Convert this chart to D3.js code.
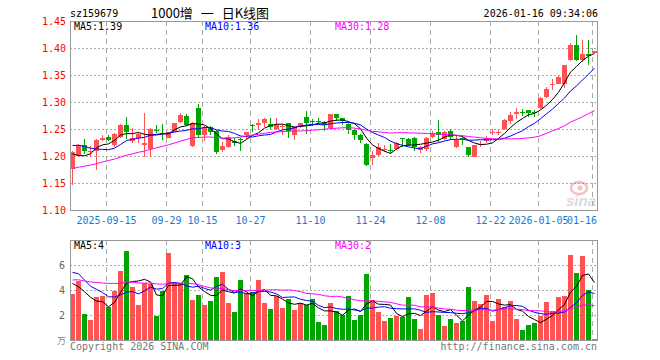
<!DOCTYPE html>
<html><head><meta charset="utf-8">
<script src="https://cdn.jsdelivr.net/npm/d3@7"></script>
<style>body{margin:0;background:#fff}svg{display:block}</style>
</head><body><svg id="c" width="660" height="360"></svg>
<script>
const code = "sz159679";
const title = "1000增 一 日K线图";
const stamp = "2026-01-16 09:34:06";

const open  = [1.176,1.200,1.221,1.207,1.210,1.230,1.235,1.221,1.236,1.257,1.228,1.234,1.221,1.213,1.249,1.242,1.234,1.245,1.263,1.275,1.218,1.289,1.238,1.254,1.247,1.212,1.216,1.227,1.232,1.239,1.257,1.257,1.261,1.259,1.250,1.254,1.261,1.239,1.253,1.272,1.265,1.265,1.263,1.251,1.277,1.270,1.260,1.249,1.239,1.222,1.197,1.201,1.212,1.212,1.213,1.233,1.232,1.234,1.212,1.213,1.236,1.244,1.232,1.247,1.216,1.234,1.216,1.199,1.221,1.227,1.243,1.243,1.250,1.265,1.277,1.282,1.285,1.281,1.288,1.309,1.331,1.334,1.333,1.378,1.405,1.377,1.388,1.391];
const high  = [1.209,1.222,1.232,1.219,1.232,1.239,1.239,1.242,1.259,1.272,1.252,1.243,1.280,1.251,1.257,1.259,1.245,1.262,1.280,1.277,1.263,1.296,1.256,1.256,1.248,1.226,1.238,1.233,1.233,1.245,1.259,1.268,1.270,1.270,1.270,1.260,1.262,1.256,1.262,1.283,1.269,1.271,1.265,1.278,1.278,1.271,1.262,1.250,1.241,1.224,1.209,1.224,1.221,1.222,1.226,1.234,1.233,1.235,1.218,1.235,1.247,1.266,1.247,1.250,1.238,1.236,1.217,1.221,1.227,1.237,1.250,1.249,1.268,1.281,1.288,1.287,1.286,1.285,1.309,1.328,1.342,1.348,1.369,1.409,1.425,1.415,1.414,1.395];
const low   = [1.146,1.198,1.204,1.199,1.175,1.228,1.227,1.216,1.234,1.231,1.224,1.224,1.199,1.199,1.242,1.230,1.233,1.244,1.262,1.256,1.216,1.234,1.228,1.239,1.204,1.208,1.215,1.218,1.210,1.231,1.245,1.248,1.253,1.250,1.248,1.239,1.234,1.230,1.251,1.241,1.256,1.259,1.247,1.250,1.265,1.258,1.241,1.230,1.225,1.182,1.183,1.200,1.207,1.204,1.212,1.216,1.218,1.210,1.206,1.209,1.233,1.226,1.230,1.229,1.215,1.221,1.198,1.198,1.216,1.225,1.239,1.238,1.248,1.260,1.268,1.274,1.273,1.273,1.287,1.308,1.323,1.333,1.326,1.376,1.376,1.374,1.368,1.390];
const close = [1.208,1.221,1.209,1.209,1.230,1.234,1.230,1.241,1.258,1.245,1.233,1.241,1.224,1.250,1.247,1.241,1.244,1.261,1.276,1.258,1.262,1.238,1.253,1.244,1.208,1.218,1.236,1.225,1.230,1.244,1.255,1.261,1.268,1.253,1.257,1.256,1.247,1.254,1.261,1.261,1.264,1.263,1.258,1.277,1.270,1.265,1.248,1.239,1.230,1.184,1.201,1.216,1.213,1.210,1.224,1.232,1.221,1.216,1.216,1.234,1.242,1.238,1.245,1.236,1.230,1.232,1.202,1.220,1.222,1.233,1.244,1.244,1.266,1.276,1.281,1.280,1.279,1.279,1.307,1.325,1.333,1.346,1.368,1.405,1.377,1.388,1.386,1.394];
const volume = [3.68,4.75,2.08,1.6,3.44,3.52,2.61,3.92,5.52,7.12,4.24,2.8,4.59,4.48,1.92,3.92,6.96,4.59,4.59,5.2,3.2,3.6,2.8,3.09,5.04,5.44,2.96,2.24,4.8,3.76,3.87,4.8,2.96,2.48,3.55,2.56,3.28,2.4,2.96,2.77,3.28,1.44,1.2,2.96,2.32,2.0,3.52,1.6,2.0,5.28,3.2,2.24,1.52,1.76,1.92,1.87,3.44,1.68,0.88,3.6,3.76,2.0,1.12,1.68,1.36,1.52,4.24,3.12,2.91,3.6,1.52,3.28,2.64,3.12,1.68,0.8,1.2,1.36,1.92,3.04,2.32,3.44,3.52,6.8,5.36,6.72,4.0,0.08];
// closes / volumes of the 29 sessions before the window (estimated from where the MA lines start)
const priorCloses = [1.150,1.148,1.152,1.147,1.145,1.150,1.153,1.149,1.146,1.151,1.155,1.158,1.156,1.160,1.162,1.159,1.163,1.165,1.168,1.175,1.215,1.232,1.240,1.245,1.242,1.235,1.212,1.191,1.173];
const priorVolumes = [4.2,5.1,3.8,4.6,4.9,3.5,4.1,5.3,4.4,4.0,4.8,5.2,3.9,4.3,4.7,4.5,5.0,4.1,4.6,4.9,5.8,7.2,6.5,5.9,6.05,6.07,4.08,3.86,4.96];

const tickIndex  = [6,16,22,30,40,50,60,70,78,87];
const tickLabels = ["2025-09-15","09-29","10-15","10-27","11-10","11-24","12-08","12-22","2026-01-05","01-16"];
const priceTicks = [1.10,1.15,1.20,1.25,1.30,1.35,1.40,1.45];
const volTicks   = [2,4,6];
const maPeriods  = [5,10,30];
const maColors   = ["#000000","#0000ff","#ff00ff"];

const UP = "#ff5252", DOWN = "#00a600", GRID = "#aaaaaa", BORDER = "#999999";
const MONO = "'DejaVu Sans Mono', monospace";
const N = close.length;
const L = 70, R = 598, T = 21, B = 210, VT = 240, VB = 340;

const svg = d3.select("#c");
const x  = d3.scaleBand().domain(d3.range(N)).range([L, R]).padding(0);
const xt = d3.scaleLinear().domain([0, N]).range([L, R]);
const y  = d3.scaleLinear().domain([1.10, 1.45]).range([B, T]);
const yv = d3.scaleLinear().domain([0, 8]).range([VB, VT]);
const cx = i => x(i) + 2.5;

function ma(series, prior, n) {
  const all = prior.concat(series), off = prior.length;
  return series.map((_, i) => d3.mean(all.slice(off + i - n + 1, off + i + 1)));
}
const priceMA = maPeriods.map(n => ma(close, priorCloses, n));
const volMA   = maPeriods.map(n => ma(volume, priorVolumes, n));

// header
svg.append("text").attr("x", 70).attr("y", 17).attr("font-family", MONO).attr("font-size", 10).text(code);
svg.append("text").attr("x", 151).attr("y", 18).attr("font-family", "'Noto Sans CJK SC', sans-serif")
  .attr("font-size", 13).attr("word-spacing", 5).style("white-space", "pre").text(title);
svg.append("text").attr("x", 598).attr("y", 17).attr("text-anchor", "end").attr("font-family", MONO).attr("font-size", 10).text(stamp);

function panel(top, bottom, yScale, ticks) {
  const g = svg.append("g");
  g.selectAll(".h").data(ticks).join("line")
    .attr("x1", L).attr("x2", R).attr("y1", d => Math.round(yScale(d)) + 0.5).attr("y2", d => Math.round(yScale(d)) + 0.5)
    .attr("stroke", GRID).attr("stroke-dasharray", "2,2");
  g.selectAll(".v").data(tickIndex).join("line")
    .attr("x1", d => xt(d) + 0.5).attr("x2", d => xt(d) + 0.5).attr("y1", top).attr("y2", bottom)
    .attr("stroke", GRID).attr("stroke-dasharray", "5,4");
  return g;
}
panel(T, B, y, priceTicks.filter(d => d > 1.10 && d < 1.45));
panel(VT, VB, yv, volTicks);

// price axis
const ya = svg.append("g").attr("transform", `translate(${L},0)`)
  .call(d3.axisLeft(y).tickValues(priceTicks).tickFormat(d3.format(".2f")).tickSize(0).tickPadding(4));
ya.select(".domain").remove();
ya.selectAll("text").attr("fill", "#ff0000").attr("font-family", MONO).attr("font-size", 10);

// volume axis
const va = svg.append("g").attr("transform", `translate(${L},0)`)
  .call(d3.axisLeft(yv).tickValues(volTicks).tickFormat(d3.format("d")).tickSize(0).tickPadding(5));
va.select(".domain").remove();
va.selectAll("text").attr("fill", "#666").attr("font-family", MONO).attr("font-size", 10);
svg.append("text").attr("x", 66).attr("y", 344).attr("text-anchor", "end").attr("fill", "#888")
  .attr("font-family", "'Noto Sans CJK SC', sans-serif").attr("font-size", 9).text("万");

// date axis
const xa = svg.append("g").attr("transform", `translate(0,${B})`)
  .call(d3.axisBottom(xt).tickValues(tickIndex).tickFormat((d, i) => tickLabels[i]).tickSize(0).tickPadding(7));
xa.select(".domain").remove();
xa.selectAll("text").attr("fill", "#1a7ad0").attr("font-family", MONO).attr("font-size", 10);
xa.selectAll("text").filter((d, i) => i === tickIndex.length - 1)
  .attr("text-anchor", "end").attr("x", R - 1 - xt(tickIndex[tickIndex.length - 1]) - 0.5);

// watermark
const wm = svg.append("g").attr("opacity", 0.35);
wm.append("ellipse").attr("cx", 579).attr("cy", 188).attr("rx", 8).attr("ry", 6).attr("fill", "none").attr("stroke", "#e05050").attr("stroke-width", 2.5);
wm.append("circle").attr("cx", 580).attr("cy", 188).attr("r", 2.5).attr("fill", "#e05050");
wm.append("text").attr("x", 596).attr("y", 206).attr("text-anchor", "end").attr("font-family", "Arial, 'Liberation Sans', sans-serif")
  .attr("font-style", "italic").attr("font-weight", "bold").attr("font-size", 15).attr("fill", "#999").text("sina");

// candles
const cg = svg.append("g").attr("shape-rendering", "crispEdges");
const col = i => close[i] >= open[i] ? UP : DOWN;
cg.selectAll(".w").data(d3.range(N)).join("line")
  .attr("x1", cx).attr("x2", cx).attr("y1", i => y(high[i])).attr("y2", i => y(low[i])).attr("stroke", col);
cg.selectAll(".b").data(d3.range(N)).join("rect")
  .attr("x", i => x(i)).attr("width", 5)
  .attr("y", i => y(Math.max(open[i], close[i])))
  .attr("height", i => Math.max(1, Math.abs(y(open[i]) - y(close[i]))))
  .attr("fill", col);

// volume bars
cg.selectAll(".vb").data(d3.range(N)).join("rect")
  .attr("x", i => x(i)).attr("width", 5)
  .attr("y", i => yv(volume[i])).attr("height", i => VB - yv(volume[i]))
  .attr("fill", col);

// MA lines
priceMA.forEach((s, k) => {
  svg.append("path").datum(s).attr("fill", "none").attr("stroke", maColors[k]).attr("stroke-width", 1)
    .attr("d", d3.line().x((d, i) => cx(i)).y(d => y(d)));
});
volMA.forEach((s, k) => {
  svg.append("path").datum(s).attr("fill", "none").attr("stroke", maColors[k]).attr("stroke-width", 1)
    .attr("d", d3.line().x((d, i) => cx(i)).y(d => yv(d)));
});

// borders
svg.append("rect").attr("x", L + 0.5).attr("y", T + 0.5).attr("width", R - L - 1).attr("height", B - T)
  .attr("fill", "none").attr("stroke", BORDER);
svg.append("rect").attr("x", L + 0.5).attr("y", VT + 0.5).attr("width", R - L - 1).attr("height", VB - VT)
  .attr("fill", "none").attr("stroke", BORDER);

// MA legends
const last = N - 1;
const legX = [74, 205, 335];
const pLab = ["MA5:", "MA10:", "MA30:"];
pLab.forEach((t, k) => {
  svg.append("text").attr("x", legX[k]).attr("y", 30).attr("fill", maColors[k]).attr("font-family", MONO).attr("font-size", 10)
    .text(t + priceMA[k][last].toFixed(2));
  svg.append("text").attr("x", legX[k]).attr("y", 249).attr("fill", maColors[k]).attr("font-family", MONO).attr("font-size", 10)
    .text(t + Math.floor(volMA[k][last]));
});

// footer
svg.append("text").attr("x", 70).attr("y", 350).attr("fill", "#777").attr("font-family", MONO).attr("font-size", 10).text("Copyright 2026 SINA.COM");
svg.append("text").attr("x", 597).attr("y", 350).attr("text-anchor", "end").attr("fill", "#777").attr("font-family", MONO).attr("font-size", 10).text("http://finance.sina.com.cn");
</script></body></html>
